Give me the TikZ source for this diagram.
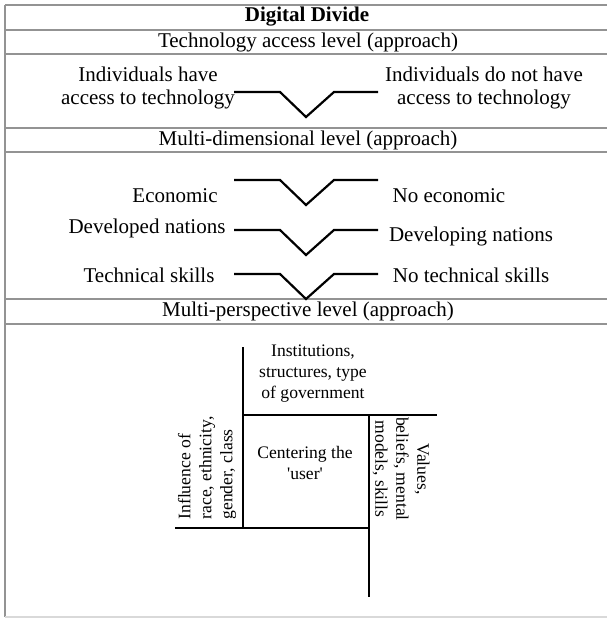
\documentclass[tikz,border=0pt]{standalone}
\usepackage{fontspec}
\setmainfont{Liberation Serif}

\begin{document}
\begin{tikzpicture}[x=0.5pt, y=-0.5pt,
    rule/.style={draw=gray!85, line width=0.7pt},
    zig/.style={draw, line width=1.1pt},
    lbl/.style={inner sep=0, align=center, font=\fontsize{10.5}{11.5}\selectfont},
    small/.style={inner sep=0, align=center, font=\fontsize{8.8}{10.5}\selectfont}]

    \useasboundingbox (0,0) rectangle (607,619);

    % Table
    \draw[rule] (5,5) -- (5,617);
    \foreach \y in {5, 30, 54, 128, 152, 299, 324}
        \draw[rule] (5,\y) -- (607,\y);
    \draw[draw=gray!30, line width=0.7pt] (5,617) -- (607,617);

    % Headings
    \node[lbl, font=\fontsize{10.5}{11.5}\selectfont\bfseries] (title) at (307,17) {Digital Divide};
    \node[lbl] (access) at (308,42) {Technology access level (approach)};
    \node[lbl] (multidim) at (308,140) {Multi-dimensional level (approach)};
    \node[lbl] (multipersp) at (308,311) {Multi-perspective level (approach)};

    % Technology access level
    \node[lbl] (have) at (148,88) {Individuals have\\access to technology};
    \node[lbl] (havenot) at (484,88) {Individuals do not have\\access to technology};

    % Multi-dimensional level
    \node[lbl] (econ) at (175,196) {Economic};
    \node[lbl] (noecon) at (449,196) {No economic};
    \node[lbl] (developed) at (147,228) {Developed nations};
    \node[lbl] (developing) at (471,236) {Developing nations};
    \node[lbl] (skills) at (149,275) {Technical skills};
    \node[lbl] (noskills) at (471,275) {No technical skills};

    % Divides
    \foreach \n/\y in {z0/92, z1/180, z2/230, z3/274} {
        \coordinate (\n) at (234,\y);
        \draw[zig] (\n) -- ++(46,0) -- ++(26,25) -- ++(28,-25) -- ++(44,0);
    }

    % Multi-perspective level
    \coordinate (tl) at (243,415);
    \coordinate (tr) at (369,415);
    \coordinate (bl) at (243,528);
    \coordinate (br) at (369,528);
    \coordinate (topend) at (243,347);
    \coordinate (rightend) at (437,415);
    \coordinate (leftend) at (175,528);
    \coordinate (bottomend) at (369,597);

    \draw[zig] (topend) -- (bl);
    \draw[zig] (tl) -- (rightend);
    \draw[zig] (tr) -- (bottomend);
    \draw[zig] (leftend) -- (br);

    \node[small] (inst) at (313,374) {Institutions,\\structures, type\\of government};
    \node[small] (user) at (305,463) {Centering the\\\textquotesingle user\textquotesingle};
    \node[small, rotate=90, align=left] (influence) at (207,468)
        {Influence of\\race, ethnicity,\\gender, class};
    \node[small, rotate=-90] (values) at (401,469)
        {Values,\\beliefs, mental\\models, skills};

\end{tikzpicture}
\end{document}
